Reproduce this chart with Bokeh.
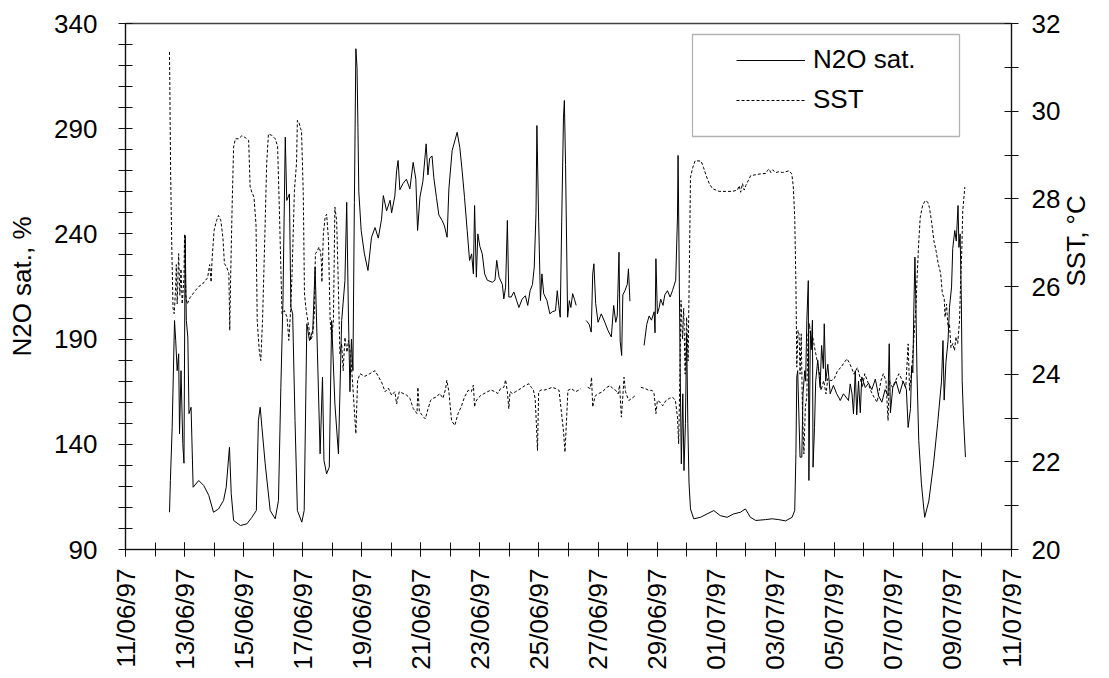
import math
import numpy as np
import pandas as pd
from bokeh.plotting import figure
from bokeh.models import (Range1d, LinearAxis, FixedTicker, DatetimeTickFormatter,
                          CustomJSTickFormatter, Legend, LegendItem, BoxAnnotation,
                          ColumnDataSource)
from bokeh.embed import file_html
from bokeh.resources import INLINE

nan = float("nan")

# ---------------- data ----------------
start_date = "11/06/97"
end_date = "11/07/97"
date_labels = ["11/06/97", "13/06/97", "15/06/97", "17/06/97", "19/06/97", "21/06/97",
               "23/06/97", "25/06/97", "27/06/97", "29/06/97", "01/07/97", "03/07/97",
               "05/07/97", "07/07/97", "09/07/97", "11/07/97"]
n2o_ticks = [90, 140, 190, 240, 290, 340]
sst_ticks = [20, 22, 24, 26, 28, 30, 32]

# days since 11/06/97 00:00 and N2O saturation (%)
n2o_day = [1.49, 1.52, 1.58, 1.66, 1.70, 1.75, 1.80, 1.83, 1.88, 1.94, 1.98, 2.02, 2.06, 2.11, 2.15,
           2.22, 2.29, 2.48, 2.65, 2.82, 2.98, 3.15, 3.32, 3.41, 3.52, 3.58, 3.66, 3.89, 4.11, 4.28,
           4.43, 4.50, 4.56, 4.62, 4.73, 4.90, 5.07, 5.18, 5.26, 5.33, 5.41, 5.46, 5.55, 5.60, 5.66,
           5.74, 5.82, 5.97, 6.05, 6.14, 6.23, 6.34, 6.42, 6.50, 6.59, 6.67, 6.72, 6.81, 6.90, 6.98,
           7.09, 7.21, 7.32, 7.43, 7.49, 7.55, 7.60, 7.65, 7.70, 7.75, 7.80, 7.84, 7.87, 7.90, 7.98,
           8.09, 8.21, 8.33, 8.45, 8.56, 8.67, 8.73, 8.84, 8.96, 9.01, 9.12, 9.18, 9.23, 9.29, 9.40,
           9.51, 9.63, 9.74, 9.83, 9.89, 9.97, 10.07, 10.18, 10.24, 10.30, 10.38, 10.44, 10.53, 10.61,
           10.72, 10.80, 10.89, 10.95, 11.06, 11.23, 11.32, 11.40, 11.48, 11.57, 11.65, 11.72, 11.78,
           11.82, 11.88, 11.93, 12.00, 12.08, 12.16, 12.25, 12.42, 12.51, 12.57, 12.65, 12.76, 12.81,
           12.87, 12.93, 12.98, 13.06, 13.15, 13.24, 13.32, 13.43, 13.54, 13.62, 13.70, 13.78, 13.84,
           13.90, 13.93, 13.99, 14.05, 14.10, 14.16, 14.27, 14.37, 14.45, 14.56, 14.62, 14.67, 14.72,
           14.77, 14.83, 14.86, 14.90, 14.97, 15.03, 15.08, 15.14, 15.20, 15.26, 15.43,
           15.60, 15.70, 15.77, 15.82, 15.86, 15.92, 16.00, 16.11, 16.23, 16.34, 16.45, 16.53, 16.60,
           16.65, 16.71, 16.75, 16.80, 16.84, 16.91, 16.99, 17.03, 17.08, 17.30,
           17.56, 17.65, 17.73, 17.81, 17.90, 17.93, 17.96, 18.01, 18.07, 18.12, 18.20, 18.26, 18.35,
           18.44, 18.52, 18.63, 18.69, 18.71, 18.74, 18.78, 18.82, 18.87, 18.91, 18.96, 19.00, 19.04,
           19.08, 19.13, 19.24, 19.47, 19.69, 19.92, 20.14, 20.37, 20.59, 20.82, 20.99, 21.16, 21.34,
           21.67, 21.90, 22.12, 22.35, 22.57, 22.66, 22.70, 22.73, 22.76, 22.84, 22.90, 22.94, 23.00,
           23.03, 23.07, 23.12, 23.14, 23.19, 23.22, 23.26, 23.28, 23.33, 23.37, 23.44, 23.52, 23.57,
           23.63, 23.66, 23.71, 23.78, 23.86, 23.97, 24.08, 24.16, 24.20, 24.31, 24.42, 24.48, 24.54,
           24.60, 24.65, 24.71, 24.76, 24.82, 24.88, 24.93, 25.05, 25.16, 25.27, 25.39, 25.50, 25.61,
           25.72, 25.82, 25.86, 25.90, 25.98, 26.09, 26.21, 26.33, 26.44, 26.50, 26.58, 26.62, 26.66,
           26.69, 26.73, 26.77, 26.80, 26.86, 26.95, 27.06, 27.20, 27.36, 27.50, 27.63, 27.68, 27.72,
           27.78, 27.85, 27.90, 27.97, 28.01, 28.08, 28.13, 28.19, 28.22, 28.26, 28.30, 28.33, 28.37,
           28.44]
n2o_val = [107.7, 122.8, 148, 198.8, 189.3, 175, 183, 145, 175, 140.4, 131, 239.2, 198.8, 191, 154.6,
           157.6, 119.6, 122.8, 120.4, 115.7, 107.7, 109.3, 113.3, 119.6, 138.6, 116.6, 103.8, 101.4, 102.2, 105.3,
           108.5, 151.3, 157.6, 148, 130.7, 108.5, 104.6, 113.3, 167.1, 206.8, 286, 255.9, 259, 205.2, 202,
           151.3, 108.5, 103, 108.5, 197.3, 189.3, 194.1, 224.2, 183, 135.5, 171.9, 132.3, 126, 129.1, 198.8,
           159.2, 135.5, 198.8, 217.8, 255, 200, 165, 190, 175, 255, 328, 319, 290.7, 260, 241.6,
           230.5, 222.6, 238.4, 243, 238, 247, 258.2, 251, 256, 250, 258, 270, 274.9, 261, 264,
           266, 261.4, 274, 266, 241.6, 257.5, 265, 282.8, 268, 276, 277, 266.7, 257.2, 249,
           246.4, 243.8, 238.4, 261.4, 279.6, 288.3, 281, 269.8, 257.2, 241.6, 227.4, 230.5, 221,
           253.5, 219.4, 240, 234, 230.5, 221, 218, 217, 218, 227.4, 219.4, 216, 209.1,
           214.7, 246.4, 210, 210, 212.4, 208.5, 205, 209, 210.6, 206, 213, 216, 224.2,
           250, 291.5, 246, 208.3, 221, 211.6, 208.3, 202, 203, 203.5, 213, 206, 200.4,
           246, 295.5, 303.4, 273, 200.4, 208.3, 205, 211.6, 209, 206, nan,
           198.8, 197, 193.3, 221, 225.8, 207, 198, 202, 198, 194, 191, 206, 198,
           201, 231.3, 189, 182.2, 211, 213, 216, 223.4, 208, nan,
           187, 197, 201, 199, 203, 193, 228.2, 202, 205, 209, 206, 211, 213,
           210, 213, 218, 248, 277.3, 235.3, 176.7, 130.7, 164, 127.5, 150, 193, 150,
           122, 109.3, 104.6, 105.3, 106.9, 108.5, 106.1, 105.3, 106.9, 107.7, 109.3, 105.3, 103.8,
           104.2, 104.6, 104.2, 103.6, 105.3, 108.5, 135.5, 171.9, 175, 133.9, 133.9, 164, 175,
           170, 198.8, 217.8, 122.8, 194, 185, 199, 129.1, 148, 170, 180, 167, 187,
           176, 197.3, 170, 178, 164, 168, 164, 162, 160.8, 164, 162, 160.8, 168.7,
           164, 154.5, 175, 154, 170, 155, 172, 167, 169, 166, 171, 163, 160,
           166, 163, 187.8, 155, 167, 170, 164, 170, 166, 148, 157, 177, 174,
           202, 229, 201, 173.5, 141.8, 121.2, 105.3, 113, 130.7, 150, 170, 189.3, 161,
           179, 189, 205, 214.7, 233, 241.6, 236.6, 253.5, 233.6, 240, 210, 170.3, 154,
           133.9]

# days since 11/06/97 00:00 and sea surface temperature (deg C)
sst_day = [1.49, 1.53, 1.57, 1.61, 1.65, 1.70, 1.72, 1.75, 1.80, 1.84, 1.88, 1.92, 1.98, 2.00, 2.04,
           2.09, 2.19, 2.37, 2.48, 2.60, 2.78, 2.85, 2.90, 2.93, 3.00, 3.08, 3.15, 3.23, 3.30, 3.35,
           3.42, 3.50, 3.53, 3.56, 3.61, 3.66, 3.72, 3.83, 3.94, 4.05, 4.17, 4.22, 4.28, 4.35, 4.42,
           4.46, 4.53, 4.58, 4.64, 4.72, 4.78, 4.84, 4.95, 5.07, 5.15, 5.22, 5.30, 5.38, 5.47, 5.53,
           5.59, 5.64, 5.72, 5.79, 5.82, 5.87, 5.93, 5.96, 6.02, 6.06, 6.11, 6.20, 6.27, 6.34, 6.40,
           6.43, 6.49, 6.55, 6.60, 6.63, 6.65, 6.70, 6.76, 6.81, 6.87, 6.93, 6.98, 7.04, 7.09, 7.15,
           7.20, 7.26, 7.32, 7.37, 7.43, 7.50, 7.55, 7.62, 7.68, 7.80, 7.86, 7.94, 8.10, 8.27, 8.45,
           8.56, 8.67, 8.79, 8.90, 9.01, 9.12, 9.18, 9.27, 9.40, 9.52, 9.63, 9.74, 9.87, 9.90, 9.95,
           10.07, 10.15, 10.24, 10.33, 10.42, 10.53, 10.64, 10.75, 10.84, 10.88, 10.95, 11.04, 11.15,
           11.26, 11.37, 11.48, 11.60, 11.71, 11.78, 11.82, 11.85, 11.93, 12.04, 12.26, 12.38, 12.50,
           12.61, 12.70, 12.81, 12.87, 12.93, 12.98, 13.02, 13.10, 13.21, 13.38, 13.55, 13.66, 13.74,
           13.81, 13.87, 13.91, 13.95, 13.99, 14.07, 14.20, 14.33, 14.45, 14.57, 14.68, 14.75, 14.83,
           14.88, 14.93, 14.98, 15.10, 15.24, 15.33, 15.42, 15.53,
           15.65, 15.74, 15.78, 15.82, 15.90, 16.00, 16.15, 16.30, 16.41, 16.50, 16.60, 16.68, 16.73,
           16.79, 16.85, 16.88, 16.93, 17.04, 17.15, 17.26, 17.35,
           17.45, 17.60, 17.72, 17.83, 17.90, 17.96, 18.01, 18.10, 18.19, 18.30, 18.42, 18.53, 18.62,
           18.69, 18.73, 18.77, 18.81, 18.86, 18.90, 18.95, 19.00, 19.05, 19.10, 19.13, 19.21, 19.29,
           19.49, 19.57, 19.66, 19.77, 19.88, 20.10, 20.33, 20.55, 20.72, 20.78, 20.83, 20.89, 20.95,
           21.00, 21.06, 21.17, 21.34, 21.51, 21.68, 21.74, 21.79, 21.85, 21.91, 22.02, 22.13, 22.25,
           22.36, 22.47, 22.56, 22.61, 22.66, 22.70, 22.73, 22.77, 22.81, 22.84, 22.88, 22.92, 22.97,
           23.02, 23.07, 23.11, 23.16, 23.22, 23.27, 23.33, 23.42, 23.50, 23.55, 23.64, 23.72, 23.78,
           23.89, 24.00, 24.11, 24.22, 24.34, 24.43, 24.50, 24.58, 24.67, 24.78, 24.87, 24.95, 25.03,
           25.12, 25.23, 25.34, 25.45, 25.50, 25.58, 25.66, 25.75, 25.82, 25.86, 25.97, 26.08, 26.19,
           26.30, 26.42, 26.50, 26.55, 26.61, 26.66, 26.72, 26.77, 26.80, 26.85, 26.91, 26.99, 27.08,
           27.17, 27.22, 27.29, 27.37, 27.45, 27.52, 27.60, 27.66, 27.72, 27.75, 27.80, 27.85, 27.90,
           27.95, 28.01, 28.07, 28.12, 28.18, 28.24, 28.28, 28.32, 28.35, 28.42]
sst_val = [31.35, 28.5, 26.8, 25.5, 25.38, 26.0, 26.5, 25.6, 26.75, 25.8, 26.4, 25.6, 26.2, 27.2, 25.8,
           25.6, 25.75, 25.91, 26.0, 26.05, 26.2, 26.5, 26.1, 26.6, 27.28, 27.5, 27.62, 27.5, 27.1, 26.52,
           26.45, 26.3, 25.0, 26.2, 27.81, 29.18, 29.37, 29.37, 29.44, 29.4, 29.33, 28.27, 28.15, 28.04, 27.4,
           25.22, 24.53, 24.31, 25.22, 27.2, 28.8, 29.48, 29.45, 29.37, 29.2, 27.5, 25.38, 25.45, 25.3, 24.77,
           25.45, 26.3, 28.2, 28.8, 29.79, 29.75, 29.6, 29.55, 28.1, 25.83, 25.5, 25.1, 24.77, 24.9, 25.45,
           26.75, 26.8, 26.9, 26.8, 26.6, 26.1, 27.2, 27.58, 27.65, 27.1, 25.22, 24.84, 25.22, 27.81, 27.5,
           26.2, 24.46, 24.7, 24.08, 24.84, 24.5, 24.77, 24.46, 23.9, 22.64, 23.86, 24.01, 23.95, 24.01, 24.08,
           23.95, 23.82, 23.6, 23.68, 23.52, 23.6, 23.32, 23.6, 23.56, 23.52, 23.45, 23.22, 23.1, 23.7, 23.15,
           23.04, 22.98, 23.2, 23.4, 23.45, 23.48, 23.56, 23.45, 23.67, 23.86, 23.6, 22.94, 22.83,
           23.1, 23.26, 23.48, 23.63, 23.6, 23.75, 23.25, 23.36, 23.45, 23.52, 23.6, 23.64, 23.6,
           23.56, 23.67, 23.7, 23.87, 23.6, 23.21, 23.6, 23.56, 23.6, 23.67, 23.75, 23.78, 23.7,
           23.64, 23.45, 22.9, 22.26, 23.6, 23.64, 23.64, 23.67, 23.7, 23.67, 23.63, 23.2, 22.7,
           22.22, 22.9, 23.63, 23.67, 23.6, 23.63, 23.67, nan,
           23.7, 23.67, 23.93, 23.25, 23.5, 23.55, 23.6, 23.7, 23.74, 23.67, 23.63, 23.55, 23.75,
           23.02, 23.6, 23.93, 23.6, 23.4, 23.45, 23.51, nan,
           23.7, 23.67, 23.63, 23.63, 23.55, 23.1, 23.4, 23.36, 23.28, 23.4, 23.45, 23.47, 23.4,
           23.02, 22.41, 23.9, 25.68, 24.8, 25.5, 24.0, 25.3, 24.3, 26.82, 28.49, 28.72, 28.87,
           28.86, 28.72, 28.53, 28.34, 28.23, 28.17, 28.17, 28.17, 28.2, 28.3, 28.15, 28.35, 28.2,
           28.3, 28.38, 28.53, 28.55, 28.57, 28.58, 28.65, 28.68, 28.6, 28.66, 28.6, 28.62, 28.6,
           28.62, 28.64, 28.57, 28.3, 27.58, 26.06, 24.16, 25.0, 24.9, 24.0, 24.92, 23.25, 22.18,
           23.25, 23.5, 24.9, 25.15, 24.7, 24.85, 24.62, 24.3, 24.0, 23.63, 23.85, 23.55, 23.9,
           23.85, 23.9, 24.08, 24.15, 24.27, 24.35, 24.27, 24.15, 24.0, 24.15, 23.93, 23.7, 24.01,
           23.85, 23.63, 23.48, 23.36, 23.55, 23.85, 24.01, 23.85, 22.94, 23.85, 23.7, 23.86, 24.01,
           23.86, 23.7, 24.69, 23.63, 24.01, 24.46, 25.07, 25.6, 26.14, 26.9, 27.58, 27.85, 27.96,
           27.92, 27.8, 27.5, 27.05, 26.8, 26.52, 26.3, 25.83, 25.75, 25.3, 25.6, 25.07, 25.15,
           24.6, 24.7, 24.54, 24.85, 24.7, 25.22, 26.14, 26.9, 27.73, 28.27]

series_names = ["N2O sat.", "SST"]
left_title = "N2O sat., %"
right_title = "SST, °C"

# ---------------- helpers ----------------
DAY_MS = 86400000.0


def date_ms(s):
    return pd.to_datetime(s, format="%d/%m/%y").value / 1e6


t0 = date_ms(start_date)
t1 = date_ms(end_date)
n2o_t = t0 + np.array(n2o_day) * DAY_MS
sst_t = t0 + np.array(sst_day) * DAY_MS

major_x = [date_ms(s) for s in date_labels]
minor_x = [t0 + i * DAY_MS for i in range(int(round((t1 - t0) / DAY_MS)) + 1)]

# every tick mark on the y axes (labels only on the listed ticks)
n2o_marks = [float(v) for v in range(n2o_ticks[0], n2o_ticks[-1] + 1, 10)]
sst_marks = [float(v) for v in range(sst_ticks[0], sst_ticks[-1] + 1, 1)]

FONT = "Liberation Sans"
FS = "26px"
AX = "#111111"

p = figure(width=1109, height=678, x_axis_type="datetime",
           x_range=Range1d(t0, t1), y_range=Range1d(n2o_ticks[0], n2o_ticks[-1]),
           output_backend="svg", toolbar_location=None,
           min_border_left=125, min_border_right=96, min_border_top=23, min_border_bottom=129)
p.extra_y_ranges = {"sst": Range1d(sst_ticks[0], sst_ticks[-1])}
p.xgrid.visible = False
p.ygrid.visible = False
p.background_fill_color = "white"
p.border_fill_color = "white"
p.outline_line_color = "#404040"
p.outline_line_width = 1.5

src_n2o = ColumnDataSource(dict(t=n2o_t, v=np.array(n2o_val, dtype=float)))
src_sst = ColumnDataSource(dict(t=sst_t, v=np.array(sst_val, dtype=float)))
r1 = p.line(x="t", y="v", source=src_n2o, line_color="black", line_width=1)
r2 = p.line(x="t", y="v", source=src_sst, line_color="black", line_width=1,
            line_dash="3 2", y_range_name="sst")

right = LinearAxis(y_range_name="sst")
p.add_layout(right, "right")

axes = [p.xaxis[0], p.yaxis[0], right]
for ax in axes:
    ax.axis_line_color = AX
    ax.major_tick_line_color = AX
    ax.minor_tick_line_color = AX
    ax.major_tick_in = 7
    ax.major_tick_out = 7
    ax.minor_tick_in = 7
    ax.minor_tick_out = 7
    ax.major_label_text_font = FONT
    ax.major_label_text_font_size = FS
    ax.major_label_text_color = "black"
    ax.axis_label_text_font = FONT
    ax.axis_label_text_font_size = FS
    ax.axis_label_text_font_style = "normal"
    ax.axis_label_text_color = "black"

xa = p.xaxis[0]
xa.ticker = FixedTicker(ticks=major_x, minor_ticks=minor_x)
fmt = "%d/%m/%y"
xa.formatter = DatetimeTickFormatter(microseconds=fmt, milliseconds=fmt, seconds=fmt, minsec=fmt,
                                     minutes=fmt, hourmin=fmt, hours=fmt, days=fmt,
                                     months=fmt, years=fmt)
xa.major_label_orientation = math.pi / 2
xa.major_label_standoff = 12

label_code = "return labels.includes(Math.round(tick)) ? String(Math.round(tick)) : '';"

ya = p.yaxis[0]
ya.ticker = FixedTicker(ticks=n2o_marks)
ya.formatter = CustomJSTickFormatter(args=dict(labels=n2o_ticks), code=label_code)
ya.axis_label = left_title
ya.major_label_standoff = 21
ya.axis_label_standoff = 14

right.ticker = FixedTicker(ticks=sst_marks)
right.formatter = CustomJSTickFormatter(args=dict(labels=sst_ticks), code=label_code)
right.major_label_standoff = 13
right.axis_label = right_title
right.axis_label_standoff = 13
try:
    right.axis_label_orientation = math.pi / 2
except Exception:
    pass

# legend frame
box = BoxAnnotation(left=692, right=959, top=34, bottom=136,
                    left_units="canvas", right_units="canvas",
                    top_units="canvas", bottom_units="canvas",
                    fill_color="white", fill_alpha=1.0, line_color="black", line_width=1.3)
p.add_layout(box)

legend = Legend(items=[LegendItem(label=series_names[0], renderers=[r1]),
                       LegendItem(label=series_names[1], renderers=[r2])],
                location=(611, 434), margin=0, padding=0, spacing=9,
                glyph_width=69, glyph_height=30, label_height=30, label_standoff=8,
                label_text_font=FONT, label_text_font_size=FS, label_text_color="black",
                border_line_color=None, background_fill_alpha=0.0)
p.add_layout(legend)

open("out.html", "w").write(file_html(p, INLINE))
